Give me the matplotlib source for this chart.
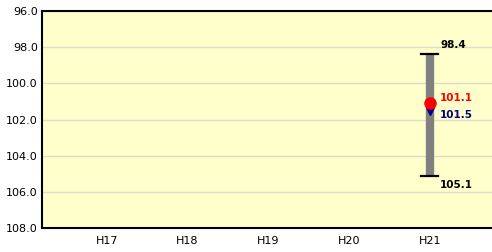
import matplotlib
matplotlib.use("Agg")
import matplotlib.pyplot as plt

# data
years = ["H17", "H18", "H19", "H20", "H21"]
upper = [None, None, None, None, 98.4]
lower = [None, None, None, None, 105.1]
red_val = [None, None, None, None, 101.1]
blue_val = [None, None, None, None, 101.5]
yticks = [96.0, 98.0, 100.0, 102.0, 104.0, 106.0, 108.0]

fig = plt.figure(figsize=(4.92, 2.52), dpi=100)
ax = fig.add_axes([0.0854, 0.095, 0.9146, 0.861])
ax.set_facecolor("#ffffcc")

x = list(range(len(years)))
for i in x:
    if upper[i] is None:
        continue
    ax.plot([i, i], [upper[i], lower[i]], color="#808080", lw=6, solid_capstyle="butt", zorder=2)
    for v in (upper[i], lower[i]):
        ax.plot([i - 0.105, i + 0.105], [v, v], color="black", lw=1.6, zorder=3)
    ax.plot(i, blue_val[i], marker="v", color="#000080", ms=6, zorder=4)
    ax.plot(i, red_val[i], marker="o", color="red", ms=8, zorder=5)
    ax.text(i + 0.13, upper[i] - 0.25, f"{upper[i]:.1f}", fontsize=7.5, fontweight="bold", va="bottom", ha="left")
    ax.text(i + 0.13, lower[i] + 0.25, f"{lower[i]:.1f}", fontsize=7.5, fontweight="bold", va="top", ha="left")
    ax.text(i + 0.13, red_val[i] - 0.3, f"{red_val[i]:.1f}", fontsize=7.5, fontweight="bold", color="red", va="center", ha="left")
    ax.text(i + 0.13, blue_val[i] + 0.25, f"{blue_val[i]:.1f}", fontsize=7.5, fontweight="bold", color="#000080", va="center", ha="left")

ax.set_ylim(108, 96)
ax.set_yticks(yticks)
ax.set_yticklabels([f"{v:.1f}" for v in yticks], fontsize=8)
ax.set_xlim(-0.80, 4.77)
ax.set_xticks(x)
ax.set_xticklabels(years, fontsize=8)
ax.tick_params(length=0, pad=3)
ax.tick_params(axis="x", pad=6)
ax.grid(axis="y", color="#dcdccc", lw=1)
ax.set_axisbelow(True)
for s in ("left", "top", "bottom"):
    ax.spines[s].set_linewidth(1.5)
ax.spines["right"].set_visible(False)

fig.savefig("out.png", dpi=100)
